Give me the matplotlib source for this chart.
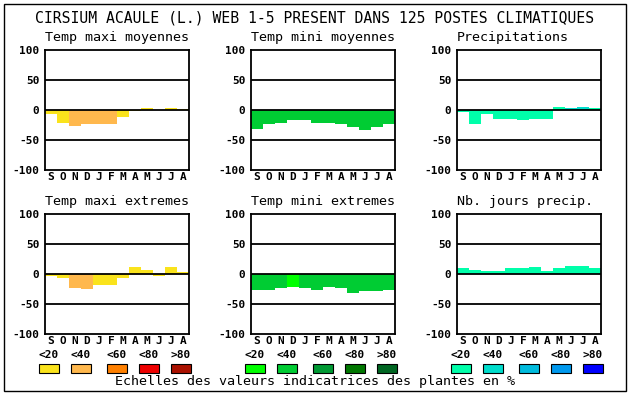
import matplotlib
matplotlib.use("Agg")
import matplotlib.pyplot as plt
from matplotlib.patches import Rectangle

W, H = 630, 394

months = ["S", "O", "N", "D", "J", "F", "M", "A", "M", "J", "J", "A"]

# valeurs (%), et classe de couleur (0: <20, 1: <40 ...)
tmax_moy = [-7, -21, -26, -23, -24, -24, -12, -2, 4, 0, 4, 2]
tmax_moy_cls = [0, 0, 1, 1, 1, 1, 0, 0, 0, 0, 0, 0]
tmin_moy = [-31, -24, -21, -17, -17, -21, -21, -24, -28, -33, -28, -24]
tmin_moy_cls = [1, 1, 1, 1, 1, 1, 1, 1, 1, 1, 1, 1]
precip = [-4, -24, -7, -15, -15, -17, -15, -15, 5, 3, 5, 3]
precip_cls = [0, 0, 0, 0, 0, 0, 0, 0, 0, 1, 1, 0]
tmax_ext = [-4, -6, -23, -25, -18, -18, -6, 12, 6, -3, 11, 4]
tmax_ext_cls = [0, 0, 1, 1, 0, 0, 0, 0, 0, 0, 0, 0]
tmin_ext = [-26, -26, -24, -21, -24, -26, -21, -24, -31, -28, -28, -26]
tmin_ext_cls = [1, 1, 1, 0, 1, 1, 1, 1, 1, 1, 1, 1]
nb_jours = [10, 7, 5, 5, 10, 10, 12, 5, 10, 14, 14, 10]
nb_jours_cls = [0, 0, 0, 0, 0, 0, 0, 0, 0, 0, 0, 0]

scale_labels = ["<20", "<40", "<60", "<80", ">80"]
warm = ["#FAE31C", "#FFB84D", "#FF8000", "#EE0000", "#AA1100"]
green = ["#00FF00", "#00CC33", "#009933", "#007700", "#006622"]
blue = ["#00FFAA", "#00DDCC", "#00BBDD", "#0099EE", "#0000FF"]

panels = [
    ("Temp maxi moyennes", tmax_moy, tmax_moy_cls, warm),
    ("Temp mini moyennes", tmin_moy, tmin_moy_cls, green),
    ("Precipitations", precip, precip_cls, blue),
    ("Temp maxi extremes", tmax_ext, tmax_ext_cls, warm),
    ("Temp mini extremes", tmin_ext, tmin_ext_cls, green),
    ("Nb. jours precip.", nb_jours, nb_jours_cls, blue),
]

mono = "DejaVu Sans Mono"


def fx(x):
    return x / W


def fy(y):
    return 1 - y / H


fig = plt.figure(figsize=(W / 100, H / 100), dpi=100)
fig.patch.set_facecolor("white")

# cadre extérieur
fig.add_artist(Rectangle((fx(4), fy(391)), fx(622), 387 / H, transform=fig.transFigure,
                         fill=False, edgecolor="black", linewidth=1))

fig.text(fx(315), fy(18), "CIRSIUM ACAULE (L.) WEB 1-5 PRESENT DANS 125 POSTES CLIMATIQUES",
         ha="center", va="center", family=mono, fontsize=10.6)

col_x = [45, 251, 457]
row_y = [50, 214]
bw, bh = 144, 120

for i, (titre, vals, cls, pal) in enumerate(panels):
    x0 = col_x[i % 3]
    y0 = row_y[i // 3]
    ax = fig.add_axes([fx(x0), fy(y0 + bh), bw / W, bh / H])
    cols = [pal[c] for c in cls]
    ax.bar(range(12), vals, width=1.0, color=cols, linewidth=0, zorder=1)
    for g in (-50, 0, 50):
        ax.axhline(g, color="black", linewidth=1.3, zorder=2)
    ax.set_xlim(-0.5, 11.5)
    ax.set_ylim(-100, 100)
    ax.set_yticks([-100, -50, 0, 50, 100])
    ax.set_yticklabels(["-100", "-50", "0", "50", "100"], family=mono,
                       fontweight="bold", fontsize=8)
    ax.set_xticks(range(12))
    ax.set_xticklabels(months, family=mono, fontweight="bold", fontsize=8)
    ax.tick_params(axis="x", length=0, pad=1.5)
    ax.tick_params(axis="y", length=0, pad=4)
    for s in ax.spines.values():
        s.set_linewidth(1.3)
    fig.text(fx(x0), fy(y0 - 12), titre, ha="left", va="center",
             family=mono, fontsize=9.6)

# échelles de couleurs
label_x = [49, 81, 117, 149, 181]
offsets = [0, 206, 412]
for off, pal in zip(offsets, [warm, green, blue]):
    for lx, lab, c in zip(label_x, scale_labels, pal):
        fig.text(fx(lx + off), fy(355), lab, ha="center", va="center",
                 family=mono, fontweight="bold", fontsize=8)
        fig.add_artist(Rectangle((fx(lx + off - 10), fy(373)), fx(20), 9 / H,
                                 transform=fig.transFigure, facecolor=c,
                                 edgecolor="black", linewidth=0.8))

fig.text(fx(315), fy(382), "Echelles des valeurs indicatrices des plantes en %",
         ha="center", va="center", family=mono, fontsize=9.6)

fig.savefig("out.png", dpi=100)
